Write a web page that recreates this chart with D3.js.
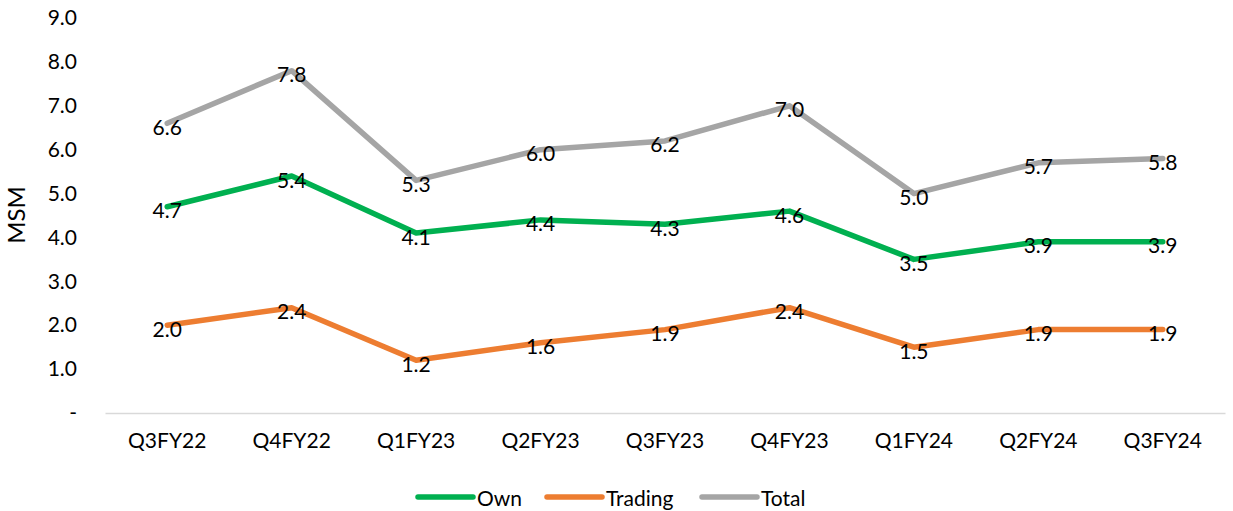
<!DOCTYPE html>
<html>
<head>
<meta charset="utf-8">
<script src="https://cdn.jsdelivr.net/npm/d3@7/dist/d3.min.js"></script>
<style>
  html, body { margin: 0; padding: 0; background: #fff; }
  svg { display: block; font-family: Lato, "Open Sans", sans-serif; }
</style>
</head>
<body>
<svg id="chart" width="1233" height="511"></svg>
<script>
// Quarterly volumes (MSM)
const categories = ["Q3FY22", "Q4FY22", "Q1FY23", "Q2FY23", "Q3FY23", "Q4FY23", "Q1FY24", "Q2FY24", "Q3FY24"];
const ownValues = [4.7, 5.4, 4.1, 4.4, 4.3, 4.6, 3.5, 3.9, 3.9];
const tradingValues = [2.0, 2.4, 1.2, 1.6, 1.9, 2.4, 1.5, 1.9, 1.9];
const totalValues = [6.6, 7.8, 5.3, 6.0, 6.2, 7.0, 5.0, 5.7, 5.8];
const yTicks = [0, 1, 2, 3, 4, 5, 6, 7, 8, 9];
const seriesNames = ["Own", "Trading", "Total"];

const series = [
  { name: seriesNames[0], values: ownValues, color: "#00B050" },
  { name: seriesNames[1], values: tradingValues, color: "#ED7D31" },
  { name: seriesNames[2], values: totalValues, color: "#A5A5A5" }
];

const svg = d3.select("#chart");
const fontSize = 21;
const plot = { left: 105, right: 1225, top: 18, bottom: 413 };

const x = d3.scaleBand().domain(categories).range([plot.left, plot.right]);
const y = d3.scaleLinear().domain([0, 9]).range([plot.bottom, plot.top]);
const cx = c => x(c) + x.bandwidth() / 2;

// Y axis labels (no axis line)
const yAxis = svg.append("g")
  .attr("transform", `translate(${plot.left},0)`)
  .call(d3.axisLeft(y).tickValues(yTicks).tickSize(0).tickPadding(28)
    .tickFormat(d => d === 0 ? "-" : d3.format(".1f")(d)));
yAxis.select(".domain").remove();
yAxis.selectAll("text")
  .attr("font-size", fontSize).attr("fill", "#000")
  .style("font-family", "Lato, 'Open Sans', sans-serif");

// X axis baseline and category labels
const xAxis = svg.append("g")
  .attr("transform", `translate(0,${plot.bottom})`)
  .call(d3.axisBottom(x).tickSize(0).tickPadding(20));
xAxis.select(".domain").attr("stroke", "#D9D9D9").attr("stroke-width", 1.5);
xAxis.selectAll("text")
  .attr("font-size", fontSize).attr("fill", "#000")
  .style("font-family", "Lato, 'Open Sans', sans-serif");

// Y axis title
svg.append("text")
  .attr("transform", "translate(25,215) rotate(-90)")
  .attr("text-anchor", "middle")
  .attr("font-size", 24)
  .attr("fill", "#000")
  .text("MSM");

// Lines
const line = d3.line()
  .x((d, i) => cx(categories[i]))
  .y(d => y(d));

series.forEach(s => {
  svg.append("path")
    .datum(s.values)
    .attr("d", line)
    .attr("fill", "none")
    .attr("stroke", s.color)
    .attr("stroke-width", 5.5)
    .attr("stroke-linejoin", "round")
    .attr("stroke-linecap", "round");
});

// Data labels centred on the points
series.forEach(s => {
  svg.append("g").selectAll("text")
    .data(s.values)
    .join("text")
    .attr("x", (d, i) => cx(categories[i]))
    .attr("y", d => y(d) + 3)
    .attr("text-anchor", "middle")
    .attr("dominant-baseline", "central")
    .attr("font-size", fontSize)
    .attr("fill", "#000")
    .text(d => d3.format(".1f")(d));
});

// Legend
const legendX = [418, 547, 702];
const legend = svg.append("g");
series.forEach((s, i) => {
  const g = legend.append("g").attr("transform", `translate(${legendX[i]},497)`);
  g.append("line")
    .attr("x1", 0).attr("x2", 55).attr("y1", 0).attr("y2", 0)
    .attr("stroke", s.color).attr("stroke-width", 5.5).attr("stroke-linecap", "round");
  g.append("text")
    .attr("x", 59).attr("y", 0)
    .attr("dominant-baseline", "central")
    .attr("font-size", fontSize).attr("fill", "#000")
    .text(s.name);
});
</script>
</body>
</html>
